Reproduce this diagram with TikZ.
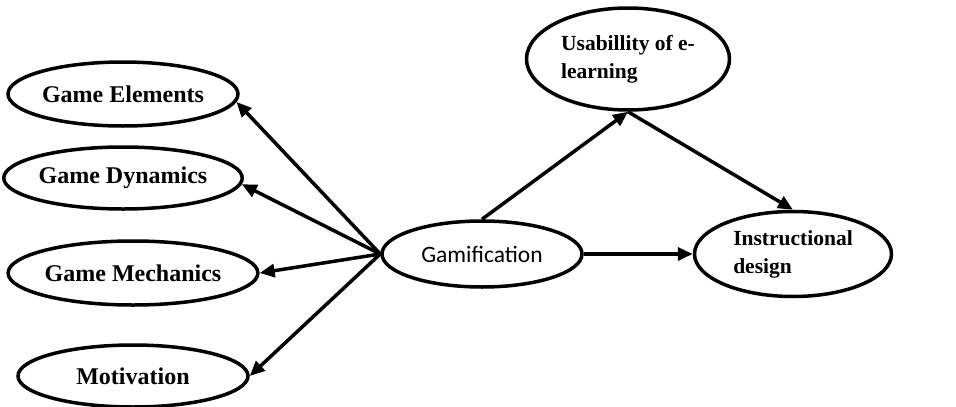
\documentclass[tikz,border=0pt]{standalone}
\usepackage{fontspec}
\setmainfont{Liberation Serif}
\newfontfamily\calfont{Carlito}
\usepackage{tikz}
\usetikzlibrary{shapes.geometric,arrows.meta}

\begin{document}
\begin{tikzpicture}[x=1pt, y=-1pt, line width=3.5pt,
  oval/.style={draw, ellipse, inner sep=0pt},
  big/.style={font=\fontsize{24}{27}\selectfont\bfseries},
  small/.style={font=\fontsize{21.5}{28}\selectfont\bfseries},
  arr/.style={-{Triangle[length=15pt,width=13pt]}}]
\useasboundingbox (0,0) rectangle (956,407);

% Four ellipses on the left
\node[oval, big, minimum width=230pt, minimum height=64pt] (e1) at (123, 94) {Game Elements};
\node[oval, big, minimum width=230pt, minimum height=62pt] (e2) at (123, 178) {Game Dynamics};
\node[oval, big, minimum width=230pt, minimum height=64pt] (e3) at (133, 273) {Game Mechanics};
\node[oval, big, minimum width=230pt, minimum height=62pt] (e4) at (133, 376) {Motivation};

% Gamification in the middle
\node[oval, minimum width=200pt, minimum height=66pt, font=\fontsize{23.5}{26}\calfont] (g) at (482, 254) {Gamification};

% Two ellipses on the right
\node[oval, small, align=left, minimum width=203pt, minimum height=102pt] (u) at (628, 59) {Usabillity of e-\\learning};
\node[oval, small, align=left, minimum width=197pt, minimum height=85pt] (d) at (793, 254) {Instructional\\design};

\draw[arr] (g.west) -- (e1.-4);
\draw[arr] (g.west) -- (e2.-3);
\draw[arr] (g.west) -- (e3.east);
\draw[arr] (g.west) -- (e4.east);

\draw[arr] (g.north) -- (u.south);
\draw[arr] (u.south) -- (d.north);
\draw[arr] (g.east) -- (d.west);

\end{tikzpicture}
\end{document}
